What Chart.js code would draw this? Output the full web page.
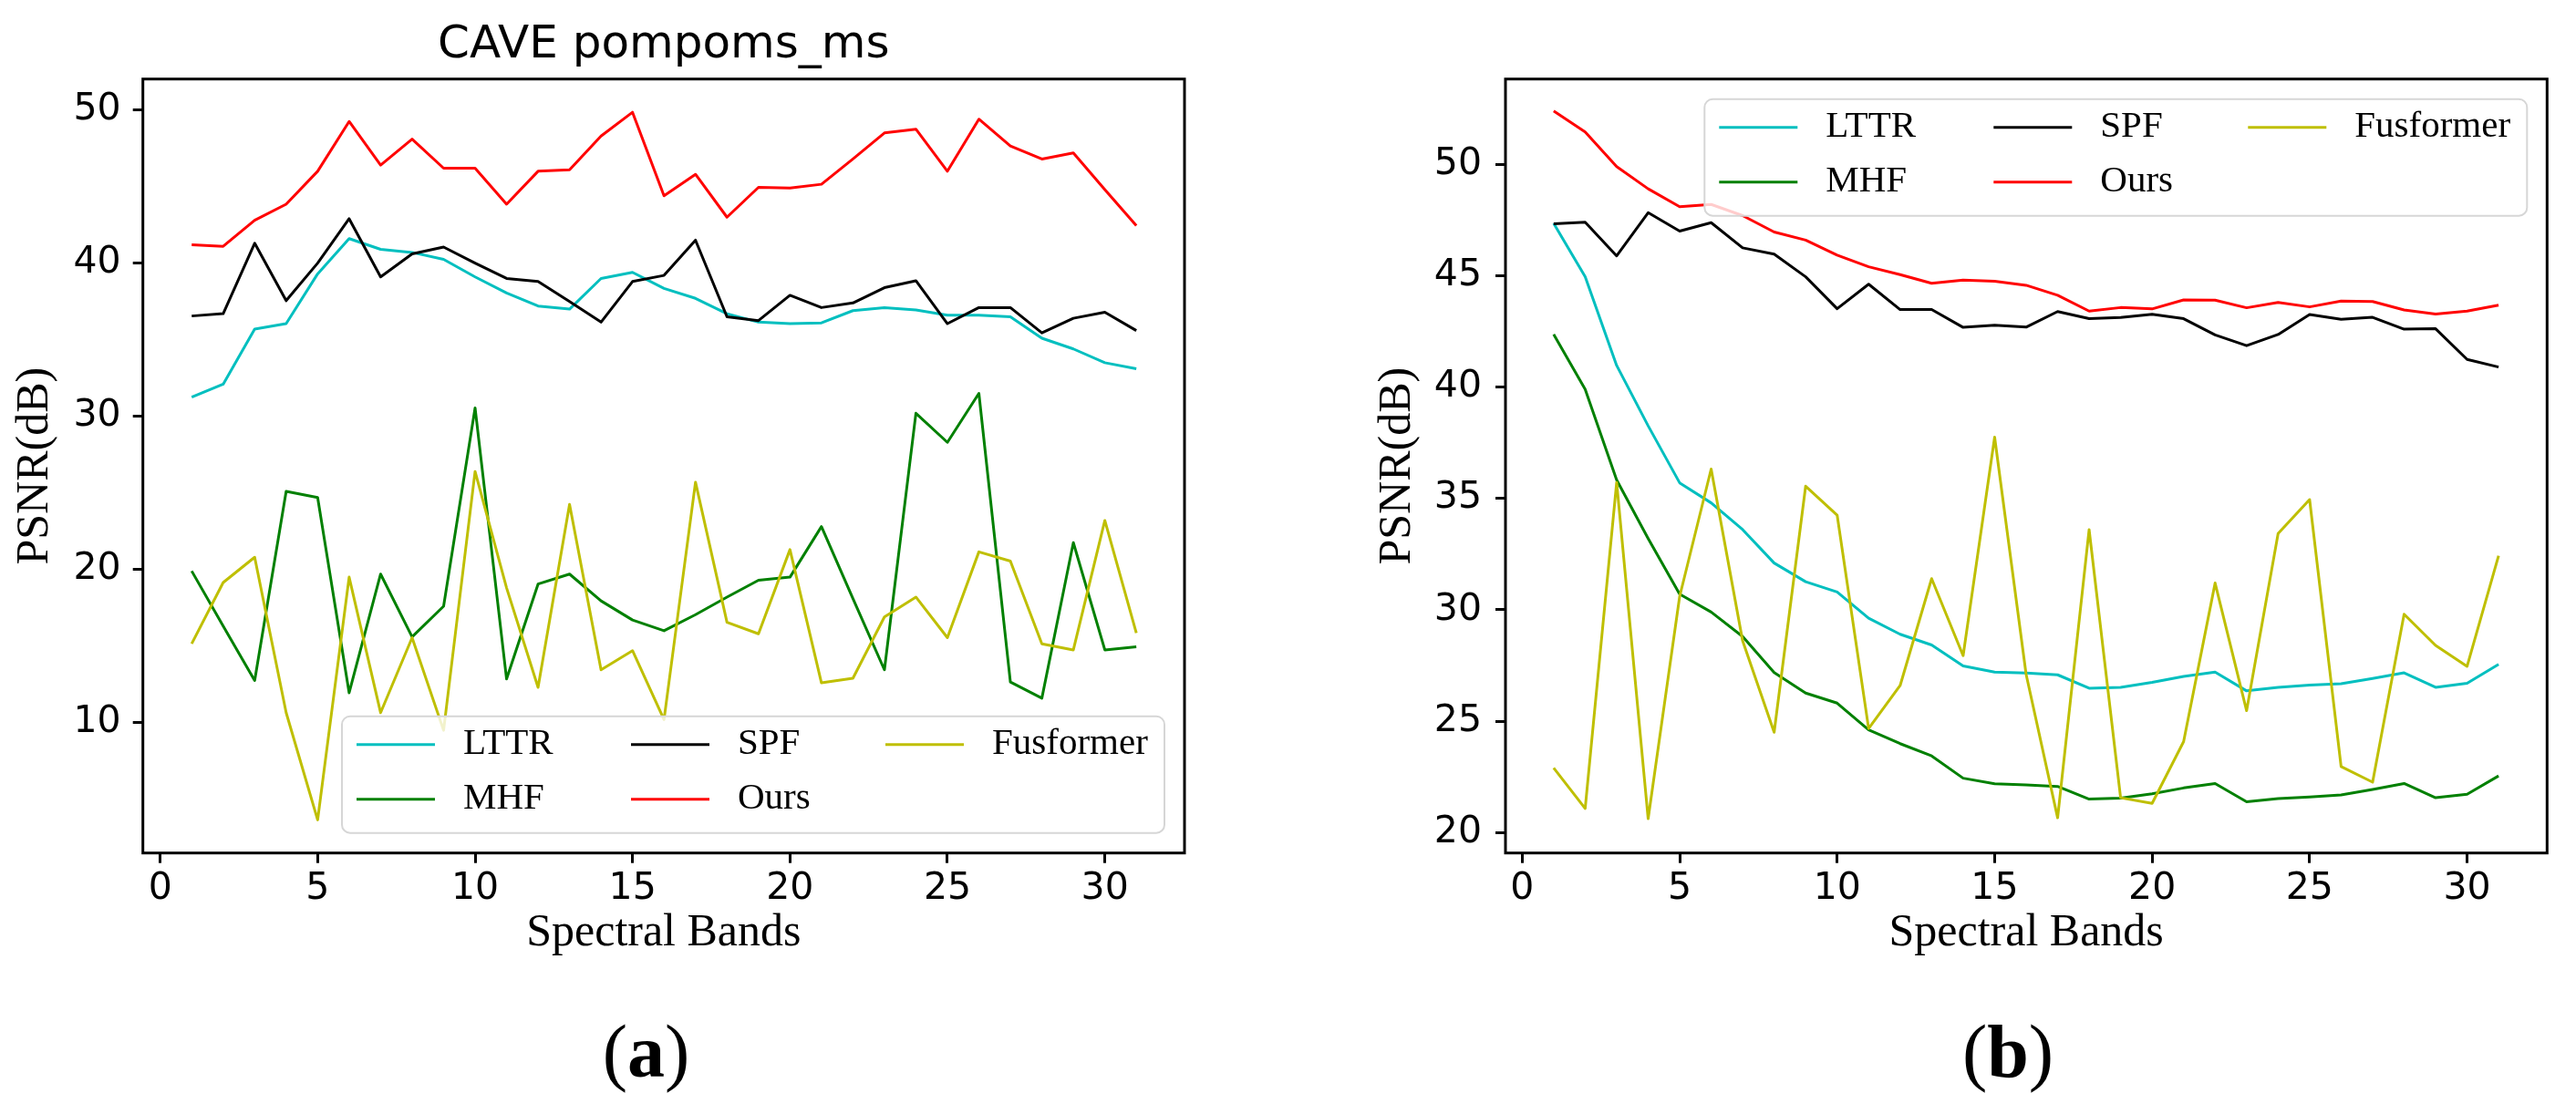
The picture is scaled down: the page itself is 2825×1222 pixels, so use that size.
<!DOCTYPE html>
<html>
<head>
<meta charset="utf-8">
<script src="https://cdn.jsdelivr.net/npm/chart.js@4"></script>
<style>
html, body { margin: 0; padding: 0; background: #ffffff; width: 2825px; height: 1222px; overflow: hidden; }
canvas { position: absolute; top: 0; }
#c1 { left: 0px; }
#c2 { left: 1460px; }
</style>
</head>
<body>
<canvas id="c1" width="1452" height="1222" style="width:1452px;height:1222px"></canvas>
<canvas id="c2" width="1365" height="1222" style="width:1365px;height:1222px"></canvas>
<script>
// ---------- data ----------
const bands = [1,2,3,4,5,6,7,8,9,10,11,12,13,14,15,16,17,18,19,20,21,22,23,24,25,26,27,28,29,30,31];
const xTicks = [0,5,10,15,20,25,30];
const yTicksA = [10,20,30,40,50];
const yTicksB = [20,25,30,35,40,45,50];
const seriesNames = ['LTTR','MHF','SPF','Ours','Fusformer'];
const seriesColors = ['#00bfbf','#008000','#000000','#ff0000','#bfbf00'];

// (a) CAVE pompoms_ms
const lttrA = [31.25,32.1,35.7,36.05,39.3,41.6,40.9,40.7,40.25,39.1,38.05,37.2,37.0,39.0,39.4,38.35,37.7,36.7,36.15,36.05,36.1,36.9,37.1,36.95,36.6,36.6,36.5,35.1,34.4,33.5,33.1];
const mhfA  = [19.9,16.3,12.75,25.1,24.7,11.95,19.7,15.6,17.6,30.55,12.85,19.05,19.7,17.95,16.7,16.0,17.05,18.2,19.3,19.5,22.8,18.1,13.45,30.2,28.3,31.5,12.65,11.6,21.75,14.75,14.95];
const spfA  = [36.55,36.7,41.3,37.55,40.0,42.9,39.1,40.6,41.05,40.0,39.0,38.8,37.5,36.15,38.8,39.2,41.5,36.5,36.25,37.9,37.1,37.4,38.4,38.85,36.05,37.1,37.1,35.45,36.4,36.8,35.6];
const oursA = [41.2,41.1,42.8,43.85,46.0,49.25,46.4,48.1,46.2,46.2,43.85,46.0,46.1,48.3,49.85,44.4,45.8,43.0,44.95,44.9,45.15,46.8,48.5,48.75,46.0,49.4,47.65,46.8,47.2,44.8,42.45];
const fusA  = [15.15,19.15,20.8,10.65,3.65,19.5,10.65,15.55,9.5,26.4,18.8,12.3,24.25,13.45,14.7,10.2,25.7,16.55,15.8,21.3,12.6,12.9,16.9,18.2,15.55,21.15,20.55,15.15,14.75,23.2,15.85];

// (b)
const lttrB = [47.35,44.96,40.97,38.26,35.7,34.8,33.6,32.1,31.26,30.8,29.62,28.9,28.42,27.48,27.2,27.16,27.08,26.48,26.52,26.74,27.01,27.2,26.36,26.52,26.62,26.68,26.92,27.17,26.52,26.7,27.55];
const mhfB  = [42.37,39.9,35.83,33.2,30.7,29.9,28.8,27.18,26.26,25.81,24.61,23.99,23.44,22.44,22.19,22.14,22.07,21.5,21.54,21.74,22.0,22.2,21.38,21.52,21.6,21.69,21.93,22.2,21.56,21.72,22.54];
const spfB  = [47.33,47.4,45.89,47.83,47.0,47.38,46.25,45.97,44.95,43.52,44.62,43.48,43.48,42.68,42.78,42.69,43.39,43.07,43.12,43.27,43.07,42.34,41.86,42.36,43.26,43.04,43.13,42.6,42.62,41.24,40.9];
const oursB = [52.4,51.45,49.9,48.9,48.1,48.2,47.7,46.96,46.6,45.92,45.4,45.05,44.66,44.8,44.75,44.57,44.12,43.41,43.57,43.51,43.91,43.9,43.56,43.8,43.6,43.86,43.84,43.46,43.28,43.41,43.68];
const fusB  = [22.9,21.08,35.72,20.62,30.6,36.32,28.6,24.5,35.55,34.25,24.67,26.6,31.4,27.94,37.75,27.1,20.66,33.6,21.56,21.31,24.08,31.2,25.47,33.42,34.95,22.96,22.26,29.8,28.4,27.46,32.43];

// ---------- decoration plugin: frame, legend, caption ----------
const decor = {
  id: 'decor',
  afterDraw(chart, args, opts) {
    const ctx = chart.ctx;
    const a = chart.chartArea;
    ctx.save();
    // legend box
    const w = 902, h = 128, r = 9;
    const bx = a.right - 22 - w;
    const by = opts.legendLoc === 'lower' ? a.bottom - 22 - h : a.top + 22;
    ctx.beginPath();
    ctx.moveTo(bx + r, by);
    ctx.lineTo(bx + w - r, by);
    ctx.arcTo(bx + w, by, bx + w, by + r, r);
    ctx.lineTo(bx + w, by + h - r);
    ctx.arcTo(bx + w, by + h, bx + w - r, by + h, r);
    ctx.lineTo(bx + r, by + h);
    ctx.arcTo(bx, by + h, bx, by + h - r, r);
    ctx.lineTo(bx, by + r);
    ctx.arcTo(bx, by, bx + r, by, r);
    ctx.closePath();
    ctx.fillStyle = 'rgba(255,255,255,0.8)';
    ctx.fill();
    ctx.strokeStyle = '#d6d6d6';
    ctx.lineWidth = 2;
    ctx.stroke();
    const cols = [0, 301, 580];
    const rows = [31, 91];
    ctx.font = '41px "Liberation Serif"';
    ctx.textAlign = 'left';
    ctx.textBaseline = 'middle';
    chart.data.datasets.forEach((ds, k) => {
      const c = Math.floor(k / 2), rw = k % 2;
      const x0 = bx + cols[c], y0 = by + rows[rw];
      ctx.beginPath();
      ctx.moveTo(x0 + 16, y0);
      ctx.lineTo(x0 + 102, y0);
      ctx.strokeStyle = ds.borderColor;
      ctx.lineWidth = 3;
      ctx.stroke();
      ctx.fillStyle = '#000';
      ctx.fillText(ds.label, x0 + 133, y0);
    });
    // frame
    ctx.strokeStyle = '#000';
    ctx.lineWidth = 3;
    ctx.strokeRect(a.left, a.top, a.right - a.left, a.bottom - a.top);
    // caption: regular parentheses around a bold letter
    const regFont = '82px "Liberation Serif"';
    const boldFont = 'bold 82px "Liberation Serif"';
    const letter = opts.caption;
    ctx.textBaseline = 'alphabetic';
    ctx.textAlign = 'left';
    ctx.fillStyle = '#000';
    ctx.font = regFont;
    const wp1 = ctx.measureText('(').width;
    const wp2 = ctx.measureText(')').width;
    ctx.font = boldFont;
    const wl = ctx.measureText(letter).width;
    let cx = opts.captionX - (wp1 + wl + wp2) / 2;
    const cy = opts.captionY;
    ctx.font = regFont;
    ctx.fillText('(', cx, cy);
    cx += wp1;
    ctx.font = boldFont;
    ctx.fillText(letter, cx, cy);
    cx += wl;
    ctx.font = regFont;
    ctx.fillText(')', cx, cy);
    ctx.restore();
  }
};

function makeChart(id, vals, cfg) {
  const datasets = vals.map((v, k) => ({
    label: seriesNames[k],
    data: bands.map((b, i) => ({ x: b, y: v[i] })),
    borderColor: seriesColors[k],
    backgroundColor: seriesColors[k],
    borderWidth: 3,
    pointRadius: 0,
    tension: 0,
    fill: false,
    borderJoinStyle: 'round',
    order: 5 - k
  }));
  const gridOpts = { display: true, drawOnChartArea: false, drawTicks: true, tickLength: 11, tickWidth: 3, tickColor: '#000', color: '#000', lineWidth: 3 };
  return new Chart(document.getElementById(id), {
    type: 'line',
    data: { datasets },
    plugins: [decor],
    options: {
      responsive: false,
      maintainAspectRatio: false,
      animation: false,
      devicePixelRatio: 1,
      layout: { padding: { left: 0, right: cfg.padRight, top: cfg.padTop, bottom: 152 } },
      plugins: {
        legend: { display: false },
        tooltip: { enabled: false },
        title: cfg.title ? {
          display: true, text: cfg.title, fullSize: false, color: '#000',
          font: { family: 'DejaVu Sans', size: 50, weight: 'normal' },
          padding: { top: 19.9, bottom: 6.8 }
        } : { display: false },
        decor: { legendLoc: cfg.legendLoc, caption: cfg.caption, captionX: cfg.captionX, captionY: 1181 }
      },
      scales: {
        x: {
          type: 'linear', min: cfg.xMin, max: cfg.xMax,
          afterBuildTicks: s => { s.ticks = xTicks.map(v => ({ value: v })); },
          afterFit: s => { s.height = 134.3; },
          grid: gridOpts,
          border: { display: false },
          ticks: { font: { family: 'DejaVu Sans', size: 41 }, color: '#000', padding: 4, maxRotation: 0, autoSkip: false },
          title: { display: true, text: 'Spectral Bands', color: '#000', font: { family: 'Liberation Serif', size: 50 }, padding: { top: 0, bottom: 16 } }
        },
        y: {
          type: 'linear', min: cfg.yMin, max: cfg.yMax,
          afterBuildTicks: s => { s.ticks = cfg.yTicks.map(v => ({ value: v })); },
          afterFit: s => { s.width = cfg.yWidth; },
          grid: gridOpts,
          border: { display: false },
          ticks: { font: { family: 'DejaVu Sans', size: 41 }, color: '#000', padding: cfg.yPad, autoSkip: false },
          title: { display: true, text: 'PSNR(dB)', color: '#000', font: { family: 'Liberation Serif', size: 50 }, padding: { top: cfg.yTitlePad, bottom: 0 } }
        }
      }
    }
  });
}

makeChart('c1', [lttrA, mhfA, spfA, oursA, fusA], {
  title: 'CAVE pompoms_ms', padTop: 0, padRight: 153,
  xMin: -0.55, xMax: 32.53, yMin: 1.49, yMax: 52.02, yTicks: yTicksA,
  yWidth: 156.7, yPad: 13, yTitlePad: 9.2,
  legendLoc: 'lower', caption: 'a', captionX: 708.5
});
makeChart('c2', [lttrB, mhfB, spfB, oursB, fusB], {
  title: null, padTop: 86.7, padRight: 31.7,
  xMin: -0.53, xMax: 32.54, yMin: 19.08, yMax: 53.83, yTicks: yTicksB,
  yWidth: 191, yPad: 15, yTitlePad: 42.8,
  legendLoc: 'upper', caption: 'b', captionX: 742
});
</script>
</body>
</html>
